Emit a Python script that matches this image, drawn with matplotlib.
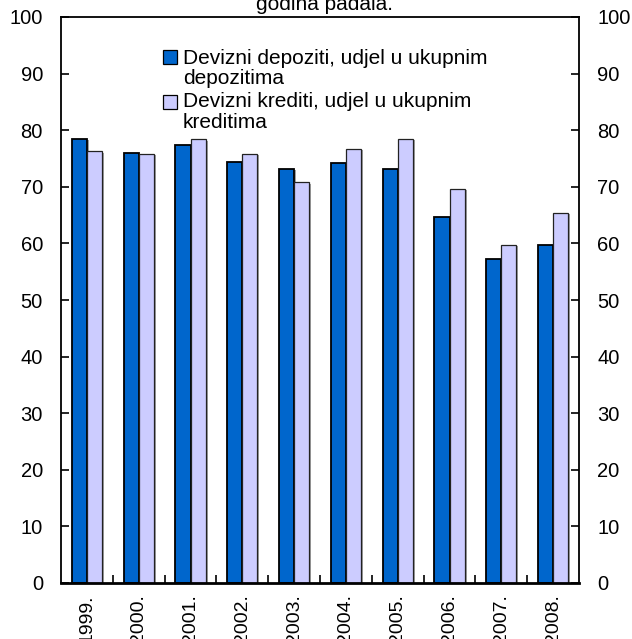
import matplotlib.pyplot as plt
import matplotlib.patheffects as pe
from matplotlib.patches import Rectangle
import numpy as np

plt.rcParams["font.family"] = ["Liberation Sans", "DejaVu Sans"]

years = ["1999.", "2000.", "2001.", "2002.", "2003.", "2004.", "2005.", "2006.", "2007.", "2008."]
depoziti = [78.5, 76.0, 77.4, 74.4, 73.2, 74.2, 73.2, 64.6, 57.2, 59.7]
krediti = [76.3, 75.8, 78.4, 75.8, 70.8, 76.7, 78.5, 69.6, 59.8, 65.4]

label_dep = "Devizni depoziti, udjel u ukupnim\ndepozitima"
label_kred = "Devizni krediti, udjel u ukupnim\nkreditima"

BLUE = "#0066CC"
LAVENDER = "#CCCCFF"

fig = plt.figure(figsize=(6.32, 6.39), dpi=100)
ax = fig.add_axes([61 / 632, 1 - 583 / 639, 518 / 632, 566 / 639])

x = np.arange(len(years))
w = 0.29
shadow = [pe.SimplePatchShadow(offset=(1.5, -1), shadow_rgbFace="#888888", alpha=0.8), pe.Normal()]
ax.bar(x - w / 2, depoziti, w, color=BLUE, edgecolor="black", linewidth=1.3,
       path_effects=shadow, zorder=2)
ax.bar(x + w / 2, krediti, w, color=LAVENDER, edgecolor="#222222", linewidth=0.9,
       path_effects=shadow, zorder=2)

ax.set_xlim(-0.5, len(years) - 0.5)
ax.set_ylim(0, 100)
ax.set_yticks(range(0, 101, 10))
ax.tick_params(axis="y", direction="in", length=6, width=1.2, labelsize=14.5,
               left=True, right=True, labelleft=True, labelright=True, pad=13)

ax.set_xticks(x)
ax.set_xticklabels(years, rotation=90, fontsize=14)
ax.tick_params(axis="x", length=0, pad=8)
ax.set_xticks(np.arange(0.5, len(years) - 0.5, 1), minor=True)
ax.tick_params(axis="x", which="minor", direction="in", length=6, width=1.2)

for s in ax.spines.values():
    s.set_linewidth(1.3)
ax.spines["bottom"].set_linewidth(2)

# legend drawn as two swatches with wrapped labels
for (sy, ty, col, lbl) in [(50, 49, BLUE, label_dep), (95, 92, LAVENDER, label_kred)]:
    fig.patches.append(Rectangle((163 / 632, 1 - (sy + 14) / 639), 14 / 632, 14 / 639,
                                 transform=fig.transFigure, facecolor=col,
                                 edgecolor="black", linewidth=0.9))
    fig.text(183 / 632, 1 - ty / 639, lbl, fontsize=15, va="top", ha="left",
             linespacing=1.1)

fig.text(325 / 632, 1 - 10 / 639, "godina padala.", fontsize=15, ha="center", va="baseline")

fig.savefig("out.png", dpi=100, facecolor="white")
